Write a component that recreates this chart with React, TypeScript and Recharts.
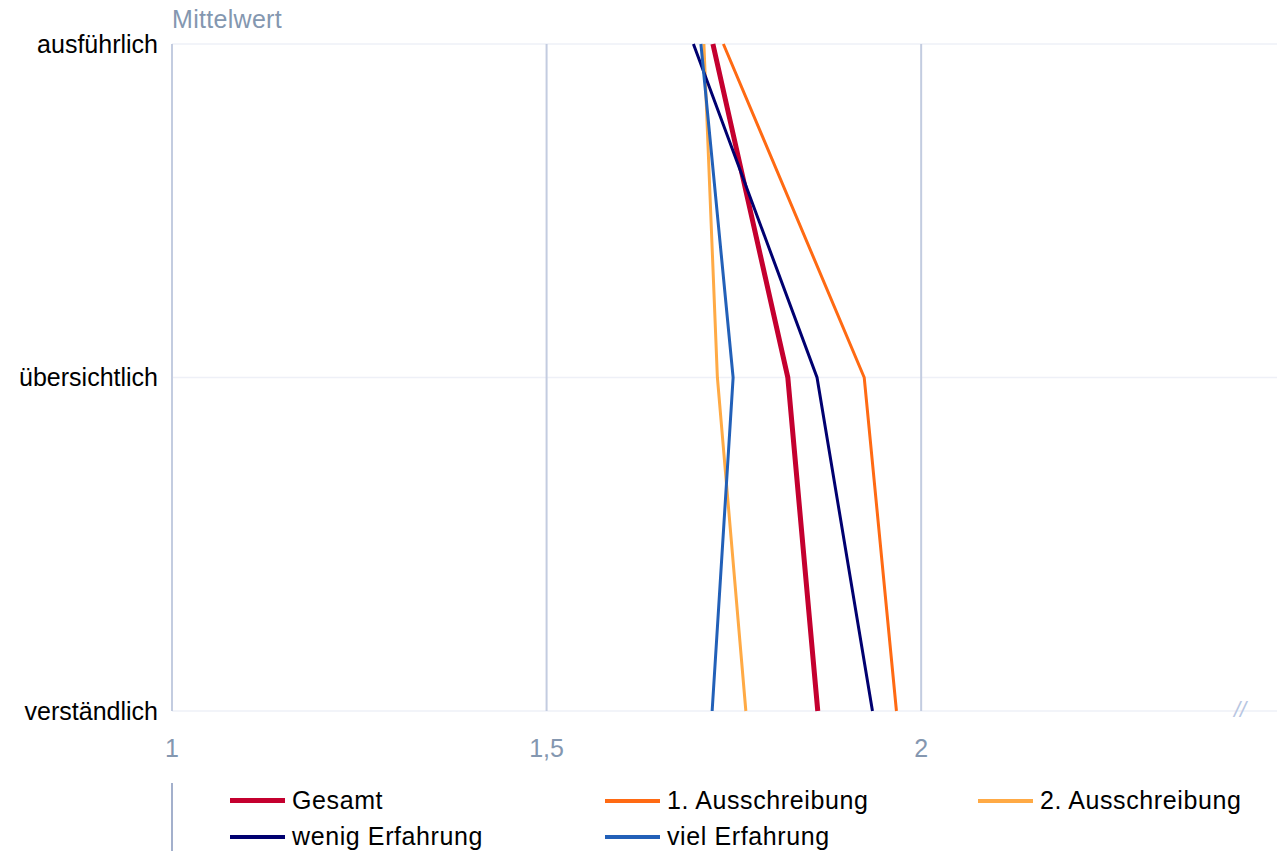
import { CartesianGrid, Line, LineChart, XAxis, YAxis } from "recharts";

const categories = ["ausführlich", "übersichtlich", "verständlich"];
const gesamt = [1.722, 1.822, 1.862];
const ausschreibung1 = [1.736, 1.924, 1.967];
const ausschreibung2 = [1.71, 1.728, 1.766];
const wenigErfahrung = [1.696, 1.861, 1.935];
const vielErfahrung = [1.706, 1.749, 1.721];
const xTicks = [1, 1.5, 2];

const series = [
	{ key: "gesamt", name: "Gesamt", values: gesamt, color: "#C4002F", width: 5 },
	{ key: "a1", name: "1. Ausschreibung", values: ausschreibung1, color: "#FF6A13", width: 3 },
	{ key: "a2", name: "2. Ausschreibung", values: ausschreibung2, color: "#FFAA45", width: 3 },
	{ key: "wenig", name: "wenig Erfahrung", values: wenigErfahrung, color: "#000070", width: 3 },
	{ key: "viel", name: "viel Erfahrung", values: vielErfahrung, color: "#2260B8", width: 3 },
];

const data = categories.map((cat, i) => {
	const row: Record<string, string | number> = { cat };
	series.forEach((s) => {
		row[s.key] = s.values[i];
	});
	return row;
});

const FONT = "'Liberation Sans', Arial, sans-serif";
const AXIS_BLUE = "#8497B0";

// legend order: row 1 = first three, row 2 = rest
const legendCols = [58, 433, 806];

export default function App() {
	return (
		<div style={{ position: "relative", width: 1277, height: 843, fontFamily: FONT }}>
			<div
				style={{
					position: "absolute",
					left: 164,
					top: -3,
					fontSize: 25,
					letterSpacing: 0.3,
					color: AXIS_BLUE,
				}}
			>
				Mittelwert
			</div>
			<LineChart
				width={1277}
				height={760}
				data={data}
				layout="vertical"
				margin={{ top: 36, right: 2, bottom: 7, left: 0 }}
			>
				<CartesianGrid
					horizontal={true}
					vertical={false}
					stroke="#EEF0F7"
					strokeWidth={1.5}
				/>
				<CartesianGrid
					horizontal={false}
					vertical={true}
					stroke="#C3CCE0"
					strokeWidth={2}
				/>
				<XAxis
					type="number"
					domain={[1, 2.483]}
					ticks={xTicks}
					allowDataOverflow
					axisLine={false}
					tickLine={false}
					tickSize={0}
					tickMargin={28}
					height={50}
					tickFormatter={(v: number) => String(v).replace(".", ",")}
					tick={{ fill: AXIS_BLUE, fontSize: 25, fontFamily: FONT }}
				/>
				<YAxis
					type="category"
					dataKey="cat"
					width={164}
					axisLine={false}
					tickLine={false}
					tickSize={0}
					tickMargin={14}
					tick={{ fill: "#000", fontSize: 25, fontFamily: FONT }}
				/>
				{series.map((s) => (
					<Line
						key={s.key}
						dataKey={s.key}
						name={s.name}
						stroke={s.color}
						strokeWidth={s.width}
						dot={false}
						activeDot={false}
						isAnimationActive={false}
					/>
				))}
			</LineChart>
			<div
				style={{
					position: "absolute",
					left: 1226,
					top: 689,
					fontSize: 22,
					color: "#B8C6E2",
					fontStyle: "italic",
				}}
			>
				//
			</div>
			<div
				style={{
					position: "absolute",
					left: 163,
					top: 775,
					width: 2,
					height: 68,
					background: "#A3B0CC",
				}}
			/>
			{series.map((s, i) => (
				<div
					key={s.key}
					style={{
						position: "absolute",
						left: 164 + legendCols[i % 3],
						top: 778 + Math.floor(i / 3) * 36,
						display: "flex",
						alignItems: "center",
						fontSize: 25,
						letterSpacing: 0.6,
						color: "#000",
						whiteSpace: "nowrap",
					}}
				>
					<span
						style={{
							display: "inline-block",
							width: 55,
							height: s.width === 5 ? 5 : 4,
							background: s.color,
							marginRight: 7,
						}}
					/>
					{s.name}
				</div>
			))}
		</div>
	);
}
